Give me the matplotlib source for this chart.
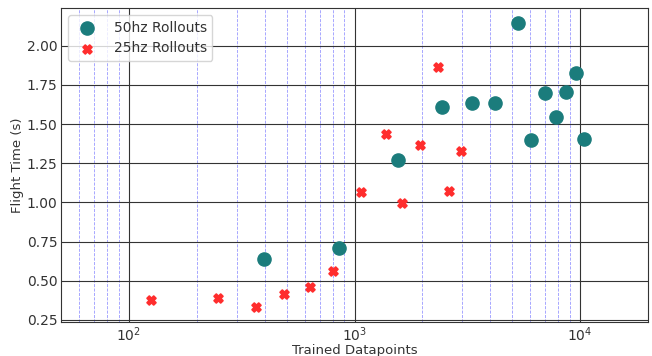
import numpy as np
import matplotlib
matplotlib.use('Agg')
import matplotlib.pyplot as plt

# trained datapoints vs flight time for each rollout rate
hz50_points = [395, 851, 1560, 2440, 3320, 4200, 5320, 6060, 7000, 7830, 8670, 9600, 10420]
hz50_time = [0.640, 0.712, 1.270, 1.610, 1.635, 1.637, 2.143, 1.395, 1.700, 1.542, 1.705, 1.825, 1.407]

hz25_points = [125, 247, 365, 489, 635, 806, 1069, 1380, 1626, 1946, 2355, 2618, 2956]
hz25_time = [0.380, 0.391, 0.335, 0.414, 0.461, 0.563, 1.068, 1.434, 0.996, 1.363, 1.861, 1.074, 1.330]

TEXT = '#333333'
plt.rcParams['text.color'] = TEXT
plt.rcParams['axes.labelcolor'] = TEXT
plt.rcParams['xtick.color'] = TEXT
plt.rcParams['ytick.color'] = TEXT

fig = plt.figure(figsize=(6.52, 3.56), dpi=100)
ax = fig.add_axes([0.0936, 0.0955, 0.9004, 0.882])

ax.scatter(hz50_points, hz50_time, s=90, c='#1b7c7c', marker='o', label='50hz Rollouts', zorder=3)
ax.scatter(hz25_points, hz25_time, s=40, c='#ff2d2d', marker='X', edgecolors='#ff2d2d',
           linewidths=1.3, label='25hz Rollouts', zorder=3)

ax.set_xscale('log')
ax.set_xlim(50, 20000)
ax.set_ylim(0.237, 2.24)

ax.grid(which='major', color='#333333', linestyle='-', linewidth=0.8)
ax.grid(which='minor', axis='x', color='blue', linestyle='--', linewidth=0.6, alpha=0.4)
ax.set_axisbelow(True)
for sp in ax.spines.values():
    sp.set_color('#333333')

ax.set_xlabel('Trained Datapoints', fontsize=9.5, labelpad=0)
ax.set_ylabel('Flight Time (s)', fontsize=9.5, labelpad=2)
ax.tick_params(which='both', length=0, labelsize=10, pad=2.5)

ax.legend(loc='upper left', fontsize=10, handletextpad=0.9, borderpad=0.4)

plt.savefig('out.png', dpi=100)
